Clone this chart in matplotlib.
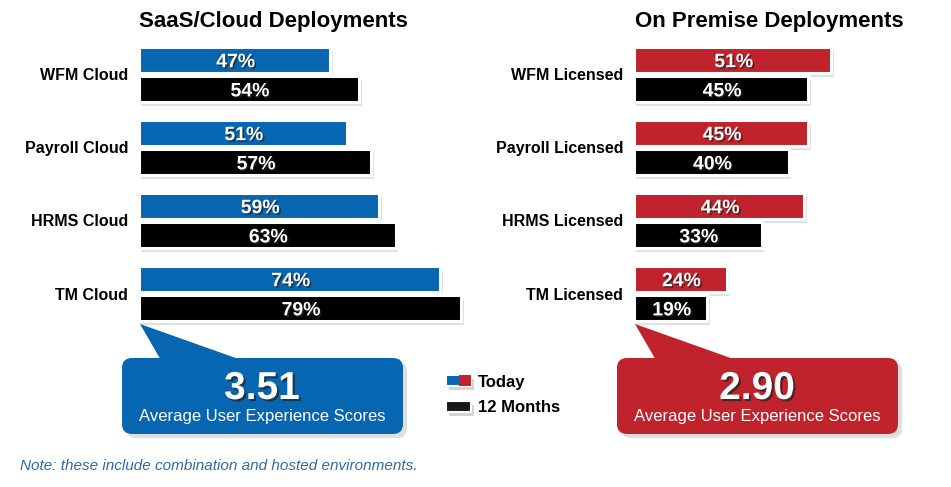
import matplotlib.pyplot as plt
import matplotlib.patheffects as pe
from matplotlib.patches import FancyBboxPatch, Polygon, Rectangle

plt.rcParams["font.family"] = ["Liberation Sans", "DejaVu Sans"]

# data
cloud_cats = ["WFM Cloud", "Payroll Cloud", "HRMS Cloud", "TM Cloud"]
cloud_today = [47, 51, 59, 74]
cloud_12m = [54, 57, 63, 79]
prem_cats = ["WFM Licensed", "Payroll Licensed", "HRMS Licensed", "TM Licensed"]
prem_today = [51, 45, 44, 24]
prem_12m = [45, 40, 33, 19]
cloud_score = 3.51
prem_score = 2.90

BLUE = "#0766b1"
RED = "#c1232c"
BLACK = "#000000"
W, H = 951, 487

fig = plt.figure(figsize=(W / 100, H / 100), dpi=100)

bar_fx = [pe.SimplePatchShadow(offset=(2, -3), shadow_rgbFace="#c4c4c4", alpha=0.5), pe.Normal()]
txt_fx = [pe.withSimplePatchShadow(offset=(1.2, -1.2), shadow_rgbFace="#222222", alpha=0.7)]


def fx(px):
    return px / W


def fy(py):
    return 1 - py / H


def panel(left_px, px_per_unit, cats, today, later, color, title, title_x):
    xmax = 85
    ax = fig.add_axes([fx(left_px - 1.5), fy(330), fx(xmax * px_per_unit), (330 - 38) / H])
    ypos = list(range(len(cats)))
    off, h = 0.2, 0.36
    b1 = ax.barh([y - off for y in ypos], today, height=h, color=color,
                 edgecolor="white", linewidth=2.2)
    b2 = ax.barh([y + off for y in ypos], later, height=h, color=BLACK,
                 edgecolor="white", linewidth=2.2)
    for bars, vals in ((b1, today), (b2, later)):
        for rect, v in zip(bars, vals):
            rect.set_path_effects(bar_fx)
            ax.annotate(f"{v}%", xy=(rect.get_x() + rect.get_width() / 2,
                                     rect.get_y() + rect.get_height() / 2),
                        xytext=(1, -2), textcoords="offset points",
                        ha="center", va="center", color="white",
                        fontsize=14, fontweight="bold", path_effects=txt_fx)
    ax.set_xlim(0, xmax)
    ax.set_ylim(len(cats) - 0.5, -0.5)
    ax.set_yticks(ypos, cats, fontsize=11.5, fontweight="bold")
    ax.tick_params(axis="y", length=0, pad=7.5)
    ax.set_xticks([])
    for s in ax.spines.values():
        s.set_visible(False)
    ax.patch.set_alpha(0)
    fig.text(fx(title_x), fy(22), title, ha="center", va="center",
             fontsize=16, fontweight="bold")


panel(140, 4.08, cloud_cats, cloud_today, cloud_12m, BLUE, "SaaS/Cloud Deployments", 273)
panel(635, 3.88, prem_cats, prem_today, prem_12m, RED, "On Premise Deployments", 769)

# overlay in pixel coordinates for callouts and legend
ov = fig.add_axes([0, 0, 1, 1])
ov.set_xlim(0, W)
ov.set_ylim(H, 0)
ov.axis("off")
ov.patch.set_alpha(0)

box_fx = [pe.SimplePatchShadow(offset=(3, -3), shadow_rgbFace="#b0b0b0", alpha=0.4), pe.Normal()]


def callout(x0, tip_x, color, score):
    box = FancyBboxPatch((x0, 358), 281, 76, boxstyle="round,pad=0,rounding_size=10",
                         facecolor=color, edgecolor="none", path_effects=box_fx)
    ov.add_patch(box)
    ov.add_patch(Polygon([(tip_x, 324), (x0 + 40, 362), (x0 + 125, 362)], closed=True,
                         facecolor=color, edgecolor="none"))
    cx = x0 + 140
    ov.text(cx, 389, f"{score:.2f}", ha="center", va="center", color="white",
            fontsize=28, fontweight="bold",
            path_effects=[pe.withSimplePatchShadow(offset=(1.5, -1.5), shadow_rgbFace="#222222", alpha=0.7)])
    ov.text(cx, 416, "Average User Experience Scores", ha="center", va="center",
            color="white", fontsize=12)


callout(122, 140, BLUE, cloud_score)
callout(617, 635, RED, prem_score)

# legend
leg_fx = [pe.SimplePatchShadow(offset=(2, -3), shadow_rgbFace="#aaaaaa", alpha=0.5), pe.Normal()]
ov.add_patch(Rectangle((446, 375), 25, 11, facecolor=BLUE, edgecolor="white", linewidth=1.5,
                       path_effects=leg_fx))
ov.add_patch(Rectangle((458.5, 375), 12.5, 11, facecolor=RED, edgecolor="none"))
ov.add_patch(Rectangle((446, 401), 25, 11, facecolor="#1a1a1a", edgecolor="white", linewidth=1.5,
                       path_effects=leg_fx))
ov.text(478, 382, "Today", ha="left", va="center", fontsize=12, fontweight="bold")
ov.text(478, 408, "12 Months", ha="left", va="center", fontsize=12, fontweight="bold")

ov.text(20, 466, "Note: these include combination and hosted environments.", ha="left",
        va="center", fontsize=11, style="italic", color="#2f6aa6")

fig.savefig("out.png", dpi=100)
